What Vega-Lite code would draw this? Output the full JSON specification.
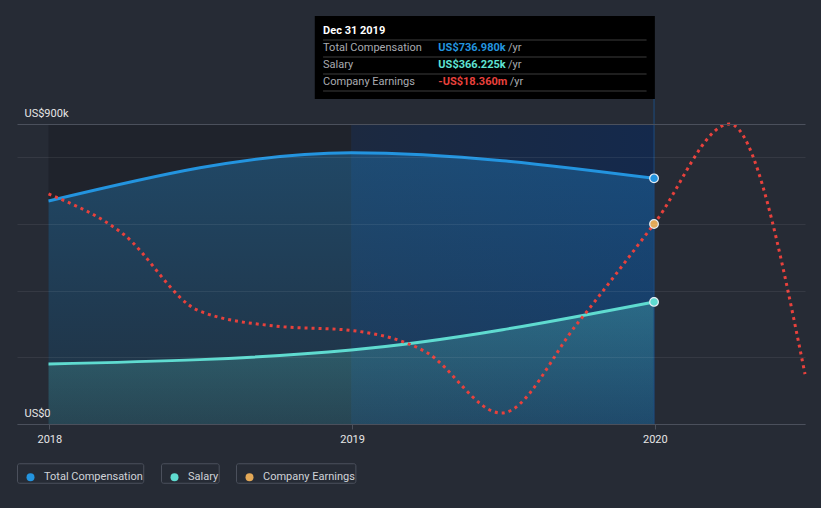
{
  "$schema": "https://vega.github.io/schema/vega-lite/v6.json",
  "width": 788,
  "height": 300,
  "autosize": {"type": "none"},
  "padding": {"left": 17, "top": 124, "right": 16, "bottom": 84},
  "background": "#262b35",
  "config": {"view": {"stroke": null}, "font": "Roboto"},
  "datasets": {
    "pay": [
      {"date": "2017-12-31", "series": "Total Compensation", "value": 669000},
      {"date": "2018-12-31", "series": "Total Compensation", "value": 814000},
      {"date": "2019-12-31", "series": "Total Compensation", "value": 736980},
      {"date": "2017-12-31", "series": "Salary", "value": 180000},
      {"date": "2018-12-31", "series": "Salary", "value": 222000},
      {"date": "2019-12-31", "series": "Salary", "value": 366225}
    ],
    "earnings": [
      {"date": "2017-12-31", "earnings": -15.11},
      {"date": "2018-03-31", "earnings": -19.44},
      {"date": "2018-06-30", "earnings": -27.74},
      {"date": "2018-09-30", "earnings": -29.40},
      {"date": "2018-12-31", "earnings": -29.88},
      {"date": "2019-03-31", "earnings": -32.21},
      {"date": "2019-06-30", "earnings": -38.81},
      {"date": "2019-09-30", "earnings": -29.07},
      {"date": "2019-12-31", "earnings": -18.36},
      {"date": "2020-03-31", "earnings": -7.54},
      {"date": "2020-06-30", "earnings": -34.6}
    ],
    "bands": [
      {"start": "2017-12-31", "end": "2018-12-31", "band": "a"},
      {"start": "2018-12-31", "end": "2019-12-31", "band": "b"}
    ],
    "tip": [
      {"date": "2019-12-31", "series": "Total Compensation", "display": "US$736.980k"},
      {"date": "2019-12-31", "series": "Salary", "display": "US$366.225k"},
      {"date": "2019-12-31", "series": "Company Earnings", "display": "-US$18.360m"}
    ]
  },
  "resolve": {"scale": {"y": "independent"}},
  "layer": [
    {
      "layer": [
        {
          "data": {"name": "bands"},
          "transform": [{"filter": "datum.band == 'a'"}],
          "mark": {"type": "rect", "color": "#1f232c"},
          "encoding": {
            "x": {"field": "start", "type": "temporal",
              "scale": {"domain": [{"year": 2017, "month": 11, "date": 23}, {"year": 2020, "month": 6, "date": 30}], "nice": false},
              "axis": {"values": [{"year": 2018, "month": 1, "date": 1}, {"year": 2019, "month": 1, "date": 1}, {"year": 2020, "month": 1, "date": 1}],
                "format": "%Y", "title": null, "grid": false, "labelColor": "#e6e6e6", "labelFontSize": 11,
                "domainColor": "#4b505c", "tickColor": "#4b505c", "tickSize": 5, "labelPadding": 4, "labelFlush": false, "zindex": 1}},
            "x2": {"field": "end"}
          }
        },
        {
          "data": {"name": "bands"},
          "transform": [{"filter": "datum.band == 'b'"}],
          "mark": {"type": "rect", "color": {"gradient": "linear", "x1": 0, "y1": 0, "x2": 1, "y2": 0,
            "stops": [{"offset": 0, "color": "#1c2940"}, {"offset": 1, "color": "#14294c"}]}},
          "encoding": {
            "x": {"field": "start", "type": "temporal"},
            "x2": {"field": "end"}
          }
        },
        {
          "data": {"name": "pay"},
          "transform": [{"filter": "datum.series == 'Total Compensation'"}],
          "mark": {"type": "area", "interpolate": "monotone", "color": {"gradient": "linear", "x1": 0, "y1": 0, "x2": 0, "y2": 1,
            "stops": [{"offset": 0, "color": "rgba(35,148,223,0.32)"}, {"offset": 1, "color": "rgba(35,148,223,0.12)"}]}},
          "encoding": {
            "x": {"field": "date", "type": "temporal"},
            "y": {"field": "value", "type": "quantitative",
              "scale": {"domain": [0, 900000], "nice": false, "zero": true},
              "axis": {"values": [0, 200000, 400000, 600000, 800000, 900000],
                "labelExpr": "datum.value == 0 ? 'US$0' : (datum.value == 900000 ? 'US$900k' : '')",
                "title": null, "domain": false, "ticks": false, "tickSize": 0, "labelAlign": "left", "labelPadding": -7,
                "labelBaseline": "alphabetic", "labelOffset": -8, "labelColor": "#e6e6e6", "labelFontSize": 11,
                "grid": true, "gridColor": {"condition": {"test": "datum.value == 900000", "value": "#4b505c"}, "value": "rgba(255,255,255,0.07)"},
                "zindex": 1}}
          }
        },
        {
          "data": {"name": "pay"},
          "transform": [{"filter": "datum.series == 'Salary'"}],
          "mark": {"type": "area", "interpolate": "monotone", "color": {"gradient": "linear", "x1": 0, "y1": 0, "x2": 0, "y2": 1,
            "stops": [{"offset": 0, "color": "rgba(95,219,208,0.27)"}, {"offset": 1, "color": "rgba(95,219,208,0.12)"}]}},
          "encoding": {
            "x": {"field": "date", "type": "temporal"},
            "y": {"field": "value", "type": "quantitative"}
          }
        },
        {
          "data": {"name": "pay"},
          "transform": [{"filter": "datum.series == 'Total Compensation'"}],
          "mark": {"type": "line", "interpolate": "monotone", "color": "#2394df", "strokeWidth": 3},
          "encoding": {
            "x": {"field": "date", "type": "temporal"},
            "y": {"field": "value", "type": "quantitative"}
          }
        },
        {
          "data": {"name": "pay"},
          "transform": [{"filter": "datum.series == 'Salary'"}],
          "mark": {"type": "line", "interpolate": "monotone", "color": "#5fdbd0", "strokeWidth": 3},
          "encoding": {
            "x": {"field": "date", "type": "temporal"},
            "y": {"field": "value", "type": "quantitative"}
          }
        },
        {
          "data": {"name": "tip"},
          "transform": [{"filter": "datum.series == 'Total Compensation'"}],
          "mark": {"type": "rule", "color": "#1d4c80", "strokeWidth": 1},
          "encoding": {
            "x": {"field": "date", "type": "temporal"},
            "y": {"datum": 975000, "type": "quantitative"},
            "y2": {"datum": 0}
          }
        },
        {
          "data": {"name": "tip"},
          "transform": [{"filter": "datum.series == 'Total Compensation'"}],
          "mark": {"type": "rect", "color": "#000000"},
          "encoding": {
            "x": {"datum": {"year": 2018, "month": 11, "date": 17}, "type": "temporal"},
            "x2": {"datum": {"year": 2020, "month": 1, "date": 1}},
            "y": {"datum": 975000, "type": "quantitative"},
            "y2": {"datum": 1224000}
          }
        },
        {
          "data": {"name": "tip"},
          "transform": [{"filter": "datum.series == 'Total Compensation'"}],
          "mark": {"type": "rule", "color": "#3c3c3c", "strokeWidth": 1},
          "encoding": {
            "x": {"datum": {"year": 2018, "month": 11, "date": 27}, "type": "temporal"},
            "x2": {"datum": {"year": 2019, "month": 12, "date": 22}},
            "y": {"datum": 1152000, "type": "quantitative"}
          }
        },
        {
          "data": {"name": "tip"},
          "transform": [{"filter": "datum.series == 'Total Compensation'"}],
          "mark": {"type": "rule", "color": "#3c3c3c", "strokeWidth": 1},
          "encoding": {
            "x": {"datum": {"year": 2018, "month": 11, "date": 27}, "type": "temporal"},
            "x2": {"datum": {"year": 2019, "month": 12, "date": 22}},
            "y": {"datum": 1101000, "type": "quantitative"}
          }
        },
        {
          "data": {"name": "tip"},
          "transform": [{"filter": "datum.series == 'Total Compensation'"}],
          "mark": {"type": "rule", "color": "#3c3c3c", "strokeWidth": 1},
          "encoding": {
            "x": {"datum": {"year": 2018, "month": 11, "date": 27}, "type": "temporal"},
            "x2": {"datum": {"year": 2019, "month": 12, "date": 22}},
            "y": {"datum": 1050000, "type": "quantitative"}
          }
        },
        {
          "data": {"name": "tip"},
          "transform": [{"filter": "datum.series == 'Total Compensation'"}],
          "mark": {"type": "rule", "color": "#3c3c3c", "strokeWidth": 1},
          "encoding": {
            "x": {"datum": {"year": 2018, "month": 11, "date": 27}, "type": "temporal"},
            "x2": {"datum": {"year": 2019, "month": 12, "date": 22}},
            "y": {"datum": 999000, "type": "quantitative"}
          }
        },
        {
          "data": {"name": "tip"},
          "transform": [{"filter": "datum.series == 'Total Compensation'"}],
          "mark": {"type": "text", "align": "left", "baseline": "middle", "fontSize": 11, "fontWeight": "bold", "color": "#ffffff"},
          "encoding": {
            "x": {"datum": {"year": 2018, "month": 11, "date": 27}, "type": "temporal"},
            "y": {"datum": 1179000, "type": "quantitative"},
            "text": {"field": "date", "type": "temporal", "timeUnit": "utcyearmonthdate", "format": "%b %d %Y"}
          }
        },
        {
          "data": {"name": "tip"},
          "transform": [{"filter": "datum.series == 'Total Compensation'"}],
          "mark": {"type": "text", "align": "left", "baseline": "middle", "fontSize": 11, "color": "#a9abb0"},
          "encoding": {
            "x": {"datum": {"year": 2018, "month": 11, "date": 27}, "type": "temporal"},
            "y": {"datum": 1128000, "type": "quantitative"},
            "text": {"field": "series"}
          }
        },
        {
          "data": {"name": "tip"},
          "transform": [{"filter": "datum.series == 'Salary'"}],
          "mark": {"type": "text", "align": "left", "baseline": "middle", "fontSize": 11, "color": "#a9abb0"},
          "encoding": {
            "x": {"datum": {"year": 2018, "month": 11, "date": 27}, "type": "temporal"},
            "y": {"datum": 1077000, "type": "quantitative"},
            "text": {"field": "series"}
          }
        },
        {
          "data": {"name": "tip"},
          "transform": [{"filter": "datum.series == 'Company Earnings'"}],
          "mark": {"type": "text", "align": "left", "baseline": "middle", "fontSize": 11, "color": "#a9abb0"},
          "encoding": {
            "x": {"datum": {"year": 2018, "month": 11, "date": 27}, "type": "temporal"},
            "y": {"datum": 1026000, "type": "quantitative"},
            "text": {"field": "series"}
          }
        },
        {
          "data": {"name": "tip"},
          "transform": [{"filter": "datum.series == 'Total Compensation'"}],
          "mark": {"type": "text", "align": "left", "baseline": "middle", "fontSize": 11, "fontWeight": "bold", "color": "#2394df"},
          "encoding": {
            "x": {"datum": {"year": 2019, "month": 4, "date": 15}, "type": "temporal"},
            "y": {"datum": 1128000, "type": "quantitative"},
            "text": {"field": "display"}
          }
        },
        {
          "data": {"name": "tip"},
          "transform": [{"filter": "datum.series == 'Salary'"}],
          "mark": {"type": "text", "align": "left", "baseline": "middle", "fontSize": 11, "fontWeight": "bold", "color": "#5fe3d3"},
          "encoding": {
            "x": {"datum": {"year": 2019, "month": 4, "date": 15}, "type": "temporal"},
            "y": {"datum": 1077000, "type": "quantitative"},
            "text": {"field": "display"}
          }
        },
        {
          "data": {"name": "tip"},
          "transform": [{"filter": "datum.series == 'Company Earnings'"}],
          "mark": {"type": "text", "align": "left", "baseline": "middle", "fontSize": 11, "fontWeight": "bold", "color": "#e8413c"},
          "encoding": {
            "x": {"datum": {"year": 2019, "month": 4, "date": 15}, "type": "temporal"},
            "y": {"datum": 1026000, "type": "quantitative"},
            "text": {"field": "display"}
          }
        },
        {
          "data": {"name": "tip"},
          "transform": [{"filter": "datum.series == 'Total Compensation'"}],
          "mark": {"type": "text", "align": "left", "baseline": "middle", "fontSize": 11, "color": "#a9abb0"},
          "encoding": {
            "x": {"datum": {"year": 2019, "month": 7, "date": 8}, "type": "temporal"},
            "y": {"datum": 1128000, "type": "quantitative"},
            "text": {"value": "/yr"}
          }
        },
        {
          "data": {"name": "tip"},
          "transform": [{"filter": "datum.series == 'Salary'"}],
          "mark": {"type": "text", "align": "left", "baseline": "middle", "fontSize": 11, "color": "#a9abb0"},
          "encoding": {
            "x": {"datum": {"year": 2019, "month": 7, "date": 8}, "type": "temporal"},
            "y": {"datum": 1077000, "type": "quantitative"},
            "text": {"value": "/yr"}
          }
        },
        {
          "data": {"name": "tip"},
          "transform": [{"filter": "datum.series == 'Company Earnings'"}],
          "mark": {"type": "text", "align": "left", "baseline": "middle", "fontSize": 11, "color": "#a9abb0"},
          "encoding": {
            "x": {"datum": {"year": 2019, "month": 7, "date": 10}, "type": "temporal"},
            "y": {"datum": 1026000, "type": "quantitative"},
            "text": {"value": "/yr"}
          }
        },
        {
          "data": {"name": "pay"},
          "transform": [{"filter": "utcyear(datum.date) == 2019"}],
          "mark": {"type": "point", "filled": true, "opacity": 1, "size": 75, "stroke": "#e8eef5", "strokeWidth": 1.2},
          "encoding": {
            "x": {"field": "date", "type": "temporal"},
            "y": {"field": "value", "type": "quantitative"},
            "color": {"field": "series", "type": "nominal",
              "scale": {"domain": ["Total Compensation", "Salary", "Company Earnings"], "range": ["#2394df", "#5fdbd0", "#e3a857"]},
              "legend": {"title": null, "orient": "none", "legendX": 0, "legendY": 339, "direction": "horizontal",
                "symbolType": "circle", "symbolSize": 64, "symbolStrokeWidth": 0, "symbolOffset": 8,
                "labelFontSize": 11, "labelColor": "#d0d3d8", "columnPadding": 17, "labelOffset": 8,
                "encoding": {
                  "entries": {
                    "stroke": {"value": "#4b505c"}, "strokeWidth": {"value": 1}, "cornerRadius": {"value": 2},
                    "fill": {"value": "transparent"},
                    "width": {"signal": "length(datum.label) * 5.8 + 35"}, "height": {"value": 28}},
                  "symbols": {"y": {"value": 14}},
                  "labels": {"y": {"value": 14}, "baseline": {"value": "middle"}}
                }}}
          }
        }
      ]
    },
    {
      "layer": [
        {
          "data": {"name": "earnings"},
          "mark": {"type": "line", "interpolate": "monotone", "color": "#e8413c", "strokeWidth": 3, "strokeDash": [3, 4]},
          "encoding": {
            "x": {"field": "date", "type": "temporal"},
            "y": {"field": "earnings", "type": "quantitative", "scale": {"domain": [-40, -7.54], "nice": false, "zero": false}, "axis": null}
          }
        },
        {
          "data": {"name": "earnings"},
          "transform": [{"filter": "utcyear(datum.date) == 2019 && utcmonth(datum.date) == 11"}],
          "mark": {"type": "point", "filled": true, "opacity": 1, "size": 75, "stroke": "#e8eef5", "strokeWidth": 1.2},
          "encoding": {
            "x": {"field": "date", "type": "temporal"},
            "y": {"field": "earnings", "type": "quantitative", "axis": null},
            "color": {"datum": "Company Earnings"}
          }
        }
      ]
    }
  ]
}
